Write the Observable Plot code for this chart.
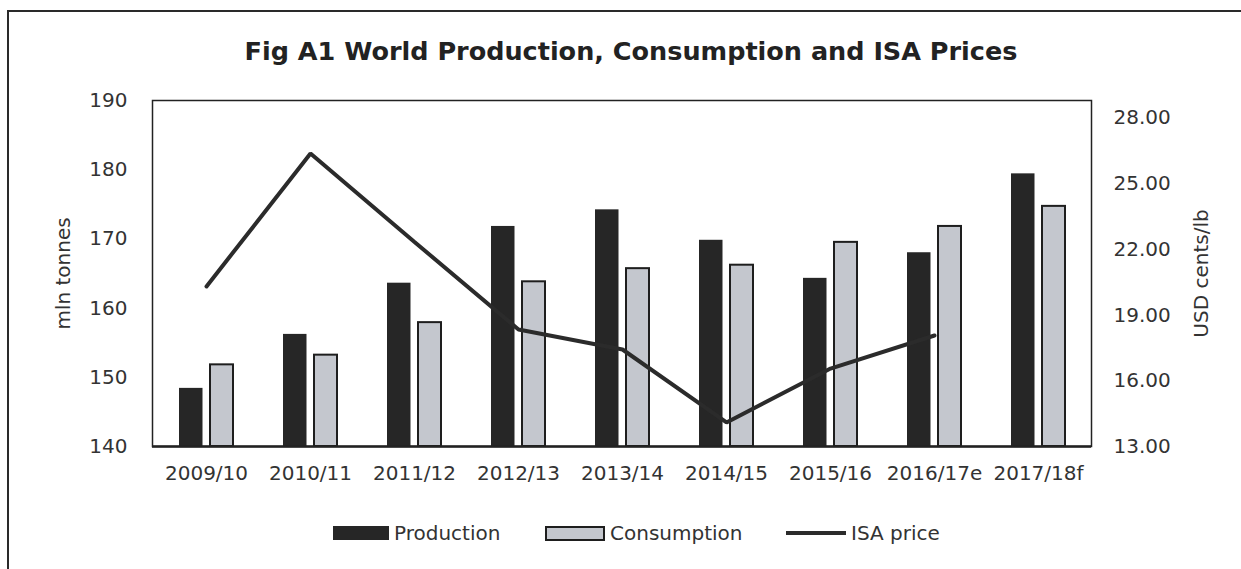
<!DOCTYPE html>
<html>
<head>
<meta charset="utf-8">
<script src="https://cdn.jsdelivr.net/npm/d3@7"></script>
<script src="https://cdn.jsdelivr.net/npm/@observablehq/plot@0.6"></script>
<style>
  body { margin: 0; background: #fff; font-family: "DejaVu Sans", sans-serif; color: #333; }
  #page { position: relative; width: 1241px; height: 569px; overflow: hidden; background: #fff; }
  .bt { position: absolute; left: 7px; top: 10px; width: 1234px; height: 2px; background: #2a2a2a; }
  .bl { position: absolute; left: 7px; top: 10px; width: 2px; height: 559px; background: #2a2a2a; }
  #title { position: absolute; top: 36px; left: 631px; transform: translateX(-50%); white-space: nowrap;
           font-family: "DejaVu Sans", sans-serif; font-weight: bold; font-size: 25.5px; line-height: 30px; color: #222; }
  #chart { position: absolute; left: 0; top: 80px; }
  .lg { position: absolute; top: 520px; height: 26px; display: flex; align-items: center; font-size: 20px; color: #333; white-space: nowrap; }
  .sw { display: inline-block; box-sizing: border-box; }
</style>
</head>
<body>
<div id="page">
  <div class="bt"></div>
  <div class="bl"></div>
  <div id="title">Fig A1 World Production, Consumption and ISA Prices</div>
  <div id="chart"></div>
  <div id="legend"></div>
</div>
<script>
const seasons = ["2009/10", "2010/11", "2011/12", "2012/13", "2013/14", "2014/15", "2015/16", "2016/17e", "2017/18f"];
const production = [148.4, 156.2, 163.6, 171.8, 174.2, 169.8, 164.3, 168.0, 179.4];
const consumption = [151.8, 153.2, 157.9, 163.8, 165.7, 166.2, 169.5, 171.8, 174.7];
const isaPrice = [20.31, 26.38, 22.34, 18.34, 17.43, 14.10, 16.56, 18.07, null];
const leftTicks = [140, 150, 160, 170, 180, 190];
const rightTicks = [13, 16, 19, 22, 25, 28];
const seriesNames = ["Production", "Consumption", "ISA price"];
const leftDomain = [140, 190];
const rightDomain = [13, 28.8];

const toLeft = d3.scaleLinear(rightDomain, leftDomain);
const prodRows = seasons.map((s, i) => ({season: s, value: production[i]}));
const consRows = seasons.map((s, i) => ({season: s, value: consumption[i]}));
const priceRows = seasons.map((s, i) => ({season: s, price: isaPrice[i]})).filter(d => d.price != null);

const chart = Plot.plot({
  width: 1241,
  height: 420,
  marginTop: 20,
  marginBottom: 54,
  marginLeft: 152,
  marginRight: 150,
  style: {fontFamily: "DejaVu Sans, sans-serif", fontSize: "20px", color: "#333", background: "transparent"},
  x: {domain: seasons, padding: 0, axis: null},
  y: {domain: leftDomain, axis: null},
  marks: [
    Plot.barY(prodRows, {x: "season", y1: () => leftDomain[0], y2: "value", fill: "#262626", insetLeft: 25, insetRight: 55.5}),
    Plot.barY(consRows, {x: "season", y1: () => leftDomain[0], y2: "value", fill: "#c4c7ce", stroke: "#1e1e1e", strokeWidth: 2, insetLeft: 56, insetRight: 25}),
    Plot.lineY(priceRows, {x: "season", y: d => toLeft(d.price), stroke: "#2b2b2b", strokeWidth: 4, strokeLinejoin: "miter"}),
    Plot.frame({stroke: "#222", strokeWidth: 1.5}),
    Plot.ruleY([leftDomain[0]], {stroke: "#222", strokeWidth: 2.5}),
    Plot.axisX({tickSize: 0, tickPadding: 19, label: null, fill: "#333"}),
    Plot.axisY(leftTicks, {anchor: "left", tickSize: 0, tickPadding: 25, label: "mln tonnes", labelAnchor: "center", labelOffset: 97, labelArrow: "none", fill: "#333"}),
    Plot.axisY(rightTicks.map(t => toLeft(t)), {anchor: "right", tickSize: 0, tickPadding: 22, tickFormat: d => toLeft.invert(d).toFixed(2), label: "USD cents/lb", labelAnchor: "center", labelOffset: 116, labelArrow: "none", fill: "#333"})
  ]
});
document.getElementById("chart").appendChild(chart);

// legend
const legend = document.getElementById("legend");
const items = [
  {name: seriesNames[0], left: 333, sw: "width:56px;height:14px;background:#262626;"},
  {name: seriesNames[1], left: 545, sw: "width:60px;height:15px;background:#c4c7ce;border:2px solid #1e1e1e;"},
  {name: seriesNames[2], left: 786, sw: "width:60px;height:4px;background:#2b2b2b;"}
];
for (const it of items) {
  const d = document.createElement("div");
  d.className = "lg";
  d.style.left = it.left + "px";
  d.innerHTML = `<span class="sw" style="${it.sw}"></span><span style="margin-left:5px">${it.name}</span>`;
  legend.appendChild(d);
}
</script>
</body>
</html>
